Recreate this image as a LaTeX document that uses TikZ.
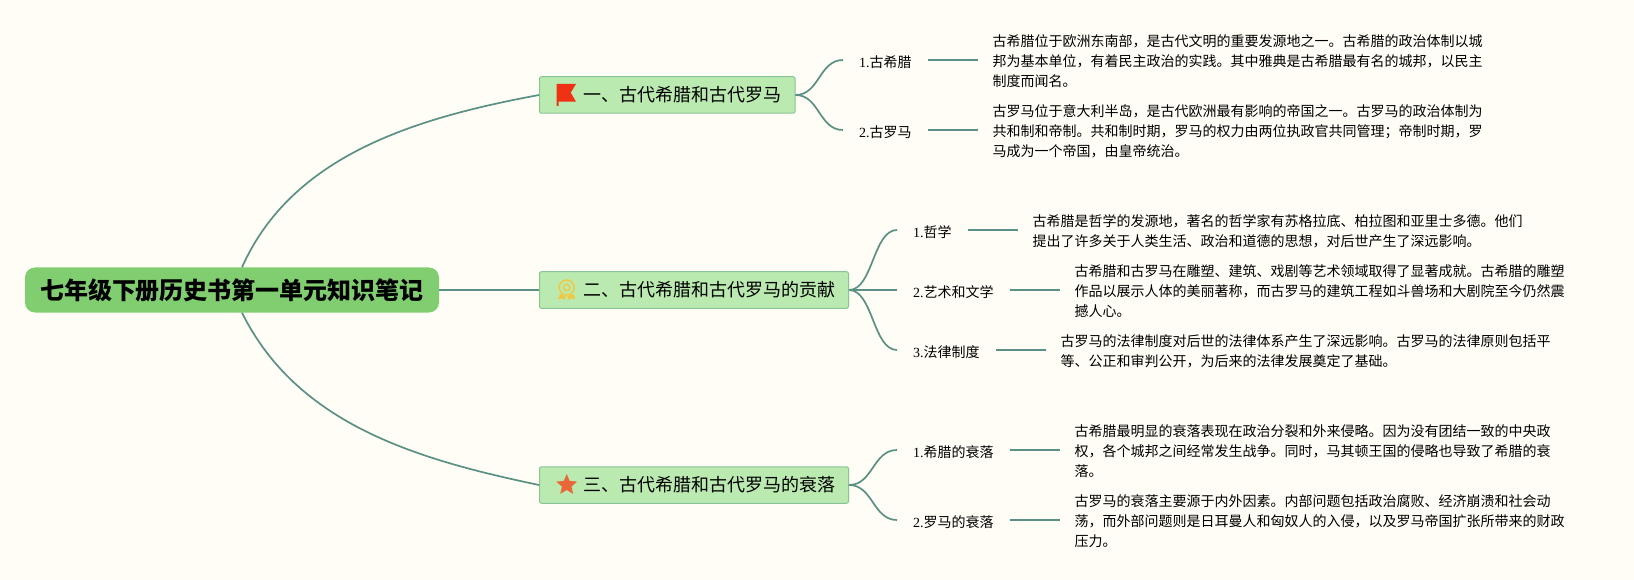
\documentclass[tikz,border=0pt]{standalone}
\usepackage{fontspec}
\setmainfont{Noto Sans CJK SC}
\newfontfamily\numfont{Liberation Serif}
\usetikzlibrary{shapes.geometric, positioning}
\definecolor{paper}{RGB}{255,253,245}
\definecolor{rootgreen}{RGB}{128,206,112}
\definecolor{topicgreen}{RGB}{186,234,176}
\definecolor{topicedge}{RGB}{137,196,152}
\definecolor{linkgreen}{RGB}{91,145,133}
\definecolor{flagred}{RGB}{240,50,20}
\definecolor{medalyellow}{RGB}{240,200,70}
\definecolor{starorange}{RGB}{232,104,58}
\tikzstyle{link} = [draw=linkgreen, line width=1.7pt]
\tikzstyle{root_node} = [
rectangle, rounded corners=10pt, minimum width=414pt, minimum height=45pt,
fill=rootgreen, text=black, font=\fontsize{24}{28}\selectfont\bfseries
]
\tikzstyle{topic} = [
rectangle, rounded corners=2pt, anchor=west, minimum height=36.5pt, inner xsep=0pt,
draw=topicedge, line width=1pt, fill=topicgreen, font=\fontsize{18}{22}\selectfont
]
\tikzstyle{subtopic} = [
anchor=west, inner xsep=16pt, inner ysep=0pt, text height=17pt, text depth=2pt,
font=\fontsize{14}{20}\selectfont
]
\tikzstyle{detail} = [
align=left, inner xsep=14.5pt, inner ysep=0pt, yshift=-1.5pt,
font=\fontsize{14}{20}\selectfont
]
\newcommand{\num}[1]{{\numfont #1}}

\begin{document}
\begin{tikzpicture}[x=1pt, y=-1pt]
			\fill [paper] (0,0) rectangle (1634,580);
			\useasboundingbox (0,0) rectangle (1634,580);

			% Root and topics
			\node (Root) [root_node] at (232,290) {七年级下册历史书第一单元知识笔记};
			\node (T_1) [topic, minimum width=255.5pt] at (539,95) {\hspace{31pt}一、古代希腊和古代罗马\hspace{26.5pt}};
			\node (T_2) [topic, minimum width=309pt] at (539,290) {\hspace{31pt}二、古代希腊和古代罗马的贡献\hspace{26.5pt}};
			\node (T_3) [topic, minimum width=309pt] at (539,485) {\hspace{31pt}三、古代希腊和古代罗马的衰落\hspace{26.5pt}};

			% Icons
			\fill [flagred] (556.7,84) -- (576,84) -- (570.7,92.7) -- (576,101.7) -- (558.5,101.7) -- (558.5,106) -- (556.7,106) -- cycle;
			\draw [medalyellow, line width=1.5pt] (566.7,287.5) circle (7.5);
			\draw [medalyellow, line width=1.5pt] (566.7,287.5) circle (3.2);
			\fill [medalyellow] (560,294) -- (558,299) -- (562,298.5) -- (564.5,300) -- (566,296) -- cycle;
			\fill [medalyellow] (573.4,294) -- (575.4,299) -- (571.4,298.5) -- (568.9,300) -- (567.4,296) -- cycle;
			\node (Icon_3) [star, star points=5, star point ratio=2.2, fill=starorange, minimum size=22pt, inner sep=0pt] at (566.7,485) {};

			% Subtopics
			\node (S_1) [subtopic] at (843,60) {\num{1.}古希腊};
			\node (S_2) [subtopic] at (843,130) {\num{2.}古罗马};
			\node (S_3) [subtopic] at (897,230) {\num{1.}哲学};
			\node (S_4) [subtopic] at (897,290) {\num{2.}艺术和文学};
			\node (S_5) [subtopic] at (897,350) {\num{3.}法律制度};
			\node (S_6) [subtopic] at (897,450) {\num{1.}希腊的衰落};
			\node (S_7) [subtopic] at (897,520) {\num{2.}罗马的衰落};

			% Details
			\node (D_1) [detail, right=50pt of S_1] {古希腊位于欧洲东南部，是古代文明的重要发源地之一。古希腊的政治体制以城\\邦为基本单位，有着民主政治的实践。其中雅典是古希腊最有名的城邦，以民主\\制度而闻名。};
			\node (D_2) [detail, right=50pt of S_2] {古罗马位于意大利半岛，是古代欧洲最有影响的帝国之一。古罗马的政治体制为\\共和制和帝制。共和制时期，罗马的权力由两位执政官共同管理；帝制时期，罗\\马成为一个帝国，由皇帝统治。};
			\node (D_3) [detail, right=50pt of S_3] {古希腊是哲学的发源地，著名的哲学家有苏格拉底、柏拉图和亚里士多德。他们\\提出了许多关于人类生活、政治和道德的思想，对后世产生了深远影响。};
			\node (D_4) [detail, right=50pt of S_4] {古希腊和古罗马在雕塑、建筑、戏剧等艺术领域取得了显著成就。古希腊的雕塑\\作品以展示人体的美丽著称，而古罗马的建筑工程如斗兽场和大剧院至今仍然震\\撼人心。};
			\node (D_5) [detail, right=50pt of S_5] {古罗马的法律制度对后世的法律体系产生了深远影响。古罗马的法律原则包括平\\等、公正和审判公开，为后来的法律发展奠定了基础。};
			\node (D_6) [detail, right=50pt of S_6] {古希腊最明显的衰落表现在政治分裂和外来侵略。因为没有团结一致的中央政\\权，各个城邦之间经常发生战争。同时，马其顿王国的侵略也导致了希腊的衰\\落。};
			\node (D_7) [detail, right=50pt of S_7] {古罗马的衰落主要源于内外因素。内部问题包括政治腐败、经济崩溃和社会动\\荡，而外部问题则是日耳曼人和匈奴人的入侵，以及罗马帝国扩张所带来的财政\\压力。};

			% Connections
			\draw [link] ([xshift=10pt]Root.north) .. controls +(50,-112) and +(-124,23) .. (T_1.west);
			\draw [link] (Root.east) -- (T_2.west);
			\draw [link] ([xshift=10pt]Root.south) .. controls +(56,113) and +(-119,-25) .. (T_3.west);

			\draw [link] (T_1.east) .. controls +(24,0) and +(-24,0) .. (S_1.west);
			\draw [link] (T_1.east) .. controls +(24,0) and +(-24,0) .. (S_2.west);
			\draw [link] (T_2.east) .. controls +(24,0) and +(-24,0) .. (S_3.west);
			\draw [link] (T_2.east) -- (S_4.west);
			\draw [link] (T_2.east) .. controls +(24,0) and +(-24,0) .. (S_5.west);
			\draw [link] (T_3.east) .. controls +(24,0) and +(-24,0) .. (S_6.west);
			\draw [link] (T_3.east) .. controls +(24,0) and +(-24,0) .. (S_7.west);

			% Final Connections
			\draw [link] (S_1.east) -- (S_1.east -| D_1.west);
			\draw [link] (S_2.east) -- (S_2.east -| D_2.west);
			\draw [link] (S_3.east) -- (S_3.east -| D_3.west);
			\draw [link] (S_4.east) -- (S_4.east -| D_4.west);
			\draw [link] (S_5.east) -- (S_5.east -| D_5.west);
			\draw [link] (S_6.east) -- (S_6.east -| D_6.west);
			\draw [link] (S_7.east) -- (S_7.east -| D_7.west);

		\end{tikzpicture}
\end{document}
